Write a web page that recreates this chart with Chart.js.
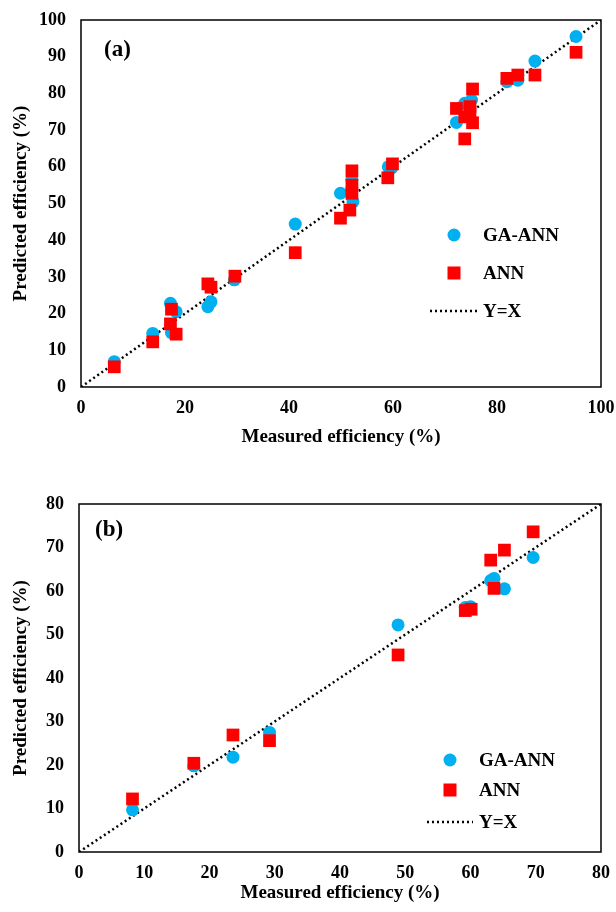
<!DOCTYPE html>
<html lang="en">
<head>
    <meta charset="UTF-8">
    <title>Measured vs predicted efficiency</title>
    <script src="https://cdn.jsdelivr.net/npm/chart.js@4.4.1/dist/chart.umd.min.js"></script>
    <style>
        * { margin: 0; padding: 0; box-sizing: border-box; }
        body { width: 616px; height: 912px; background: #fff; position: relative; overflow: hidden; }
        canvas { position: absolute; left: 0; }
        #chartA { top: 0; }
        #chartB { top: 450px; }
    </style>
</head>
<body>
    <canvas id="chartA" width="616" height="450"></canvas>
    <canvas id="chartB" width="616" height="462"></canvas>
    <script>
        // (a) GA-ANN
        const measuredA_ga = [6.4, 13.8, 17.2, 18.3, 17.4, 24.4, 25.0, 29.5, 41.2, 49.9, 52.3, 52.1, 59.1, 59.7, 72.2, 73.8, 75.1, 81.9, 84.0, 87.3, 95.2];
        const predictedA_ga = [6.9, 14.6, 22.8, 20.5, 14.8, 21.9, 23.2, 29.2, 44.4, 52.8, 50.5, 56.5, 60.0, 59.6, 72.1, 77.3, 78.2, 83.2, 83.6, 88.8, 95.5];
        // (a) ANN
        const measuredA_ann = [6.4, 13.8, 17.4, 17.2, 18.3, 24.4, 25.0, 29.6, 41.2, 49.9, 51.7, 52.1, 52.1, 52.1, 59.0, 59.9, 72.2, 73.8, 73.8, 74.8, 74.8, 75.3, 75.3, 81.9, 84.0, 87.3, 95.2];
        const predictedA_ann = [5.5, 12.3, 21.2, 17.2, 14.4, 28.1, 27.2, 30.2, 36.6, 46.0, 48.2, 52.8, 55.0, 58.9, 57.0, 60.8, 75.9, 67.6, 73.6, 76.4, 75.0, 72.0, 81.2, 84.1, 85.0, 85.0, 91.2];
        // (b) GA-ANN
        const measuredB_ga = [8.2, 17.6, 23.6, 29.2, 48.9, 59.2, 60.0, 63.1, 63.6, 65.2, 69.6];
        const predictedB_ga = [9.7, 19.8, 21.8, 27.5, 52.2, 56.2, 56.4, 62.4, 62.9, 60.5, 67.7];
        // (b) ANN
        const measuredB_ann = [8.2, 17.6, 23.6, 29.2, 48.9, 59.2, 60.1, 63.6, 63.1, 65.2, 69.6];
        const predictedB_ann = [12.2, 20.4, 26.9, 25.6, 45.3, 55.5, 55.8, 60.6, 67.1, 69.4, 73.6];

        const axisMaxA = 100, axisStepA = 10, xStepA = 20;
        const axisMaxB = 80, axisStepB = 10, xStepB = 10;

        const seriesNames = ["GA-ANN", "ANN", "Y=X"];
        const gaColor = "#00b0f0", annColor = "#ff0000";
        const serif = "'Liberation Serif', 'Times New Roman', serif";

        const toPoints = (xs, ys) => xs.map((x, i) => ({ x: x, y: ys[i] }));

        // frame, panel letter and in-plot legend
        const decorPlugin = {
            id: "decor",
            afterDraw(chart, args, opts) {
                const { ctx, chartArea: a } = chart;
                ctx.save();
                ctx.strokeStyle = "#000";
                ctx.lineWidth = 1.5;
                ctx.strokeRect(a.left, a.top, a.right - a.left, a.bottom - a.top);

                ctx.fillStyle = "#000";
                ctx.textBaseline = "middle";
                ctx.textAlign = "left";
                ctx.font = "bold 23px " + serif;
                ctx.fillText(opts.panel, opts.panelX, opts.panelY);

                const L = opts.legend;
                ctx.font = "bold 19px " + serif;
                // circle
                ctx.fillStyle = gaColor;
                ctx.beginPath();
                ctx.arc(L.markX, L.rows[0], 6.5, 0, Math.PI * 2);
                ctx.fill();
                // square
                ctx.fillStyle = annColor;
                ctx.fillRect(L.markX - 6.5, L.rows[1] - 6.5, 13, 13);
                // dotted line
                ctx.strokeStyle = "#000";
                ctx.lineWidth = 2.5;
                ctx.setLineDash([2, 3]);
                ctx.beginPath();
                ctx.moveTo(L.lineX0, L.rows[2]);
                ctx.lineTo(L.lineX1, L.rows[2]);
                ctx.stroke();
                ctx.setLineDash([]);

                ctx.fillStyle = "#000";
                seriesNames.forEach((n, i) => ctx.fillText(n, L.textX, L.rows[i] + 1));
                ctx.restore();
            }
        };

        function makeChart(canvas, cfg) {
            return new Chart(canvas, {
                type: "scatter",
                data: {
                    datasets: [
                        {
                            label: seriesNames[1],
                            data: toPoints(cfg.annX, cfg.annY),
                            pointStyle: "rect",
                            pointRadius: 9,
                            backgroundColor: annColor,
                            borderWidth: 0,
                            order: 1
                        },
                        {
                            label: seriesNames[0],
                            data: toPoints(cfg.gaX, cfg.gaY),
                            pointStyle: "circle",
                            pointRadius: 6.5,
                            backgroundColor: gaColor,
                            borderWidth: 0,
                            order: 2
                        },
                        {
                            label: seriesNames[2],
                            type: "line",
                            data: [{ x: 0, y: 0 }, { x: cfg.max, y: cfg.max }],
                            borderColor: "#000",
                            borderWidth: 2.5,
                            borderDash: [2, 3],
                            pointRadius: 0,
                            fill: false,
                            order: 3
                        }
                    ]
                },
                options: {
                    responsive: false,
                    animation: false,
                    layout: { padding: { top: cfg.padTop, right: 15, left: 0, bottom: 0 } },
                    plugins: {
                        legend: { display: false },
                        tooltip: { enabled: false },
                        decor: cfg.decor
                    },
                    scales: {
                        x: {
                            type: "linear",
                            min: 0, max: cfg.max,
                            grid: { display: false, drawTicks: false },
                            border: { display: false },
                            ticks: { stepSize: cfg.xStep, padding: 11, color: "#000", font: { family: serif, size: 18, weight: "bold" } },
                            title: { display: true, text: "Measured efficiency (%)", color: "#000", padding: { top: 0, bottom: cfg.xTitlePad }, font: { family: serif, size: 19, weight: "bold" } },
                            afterFit: (s) => { s.height = cfg.xAxisH; s.paddingLeft = 0; s.paddingRight = 0; }
                        },
                        y: {
                            type: "linear",
                            min: 0, max: cfg.max,
                            grid: { display: false, drawTicks: false },
                            border: { display: false },
                            ticks: { stepSize: cfg.yStep, padding: 15, color: "#000", font: { family: serif, size: 18, weight: "bold" } },
                            title: { display: true, text: "Predicted efficiency (%)", color: "#000", padding: { top: 10, bottom: 0 }, font: { family: serif, size: 19, weight: "bold" } },
                            afterFit: (s) => { s.width = cfg.yAxisW; s.paddingTop = 0; s.paddingBottom = 0; }
                        }
                    }
                },
                plugins: [decorPlugin]
            });
        }

        makeChart(document.getElementById("chartA"), {
            gaX: measuredA_ga, gaY: predictedA_ga, annX: measuredA_ann, annY: predictedA_ann,
            max: axisMaxA, yStep: axisStepA, xStep: xStepA,
            padTop: 20, xAxisH: 63, yAxisW: 81, xTitlePad: 2,
            decor: {
                panel: "(a)", panelX: 104, panelY: 50,
                legend: { markX: 454, textX: 483, lineX0: 430, lineX1: 477, rows: [235, 273, 311] }
            }
        });

        makeChart(document.getElementById("chartB"), {
            gaX: measuredB_ga, gaY: predictedB_ga, annX: measuredB_ann, annY: predictedB_ann,
            max: axisMaxB, yStep: axisStepB, xStep: xStepB,
            padTop: 54, xAxisH: 60, yAxisW: 79, xTitlePad: 8,
            decor: {
                panel: "(b)", panelX: 95, panelY: 80,
                legend: { markX: 450, textX: 479, lineX0: 427, lineX1: 473, rows: [310, 340, 372] }
            }
        });
    </script>
</body>
</html>
